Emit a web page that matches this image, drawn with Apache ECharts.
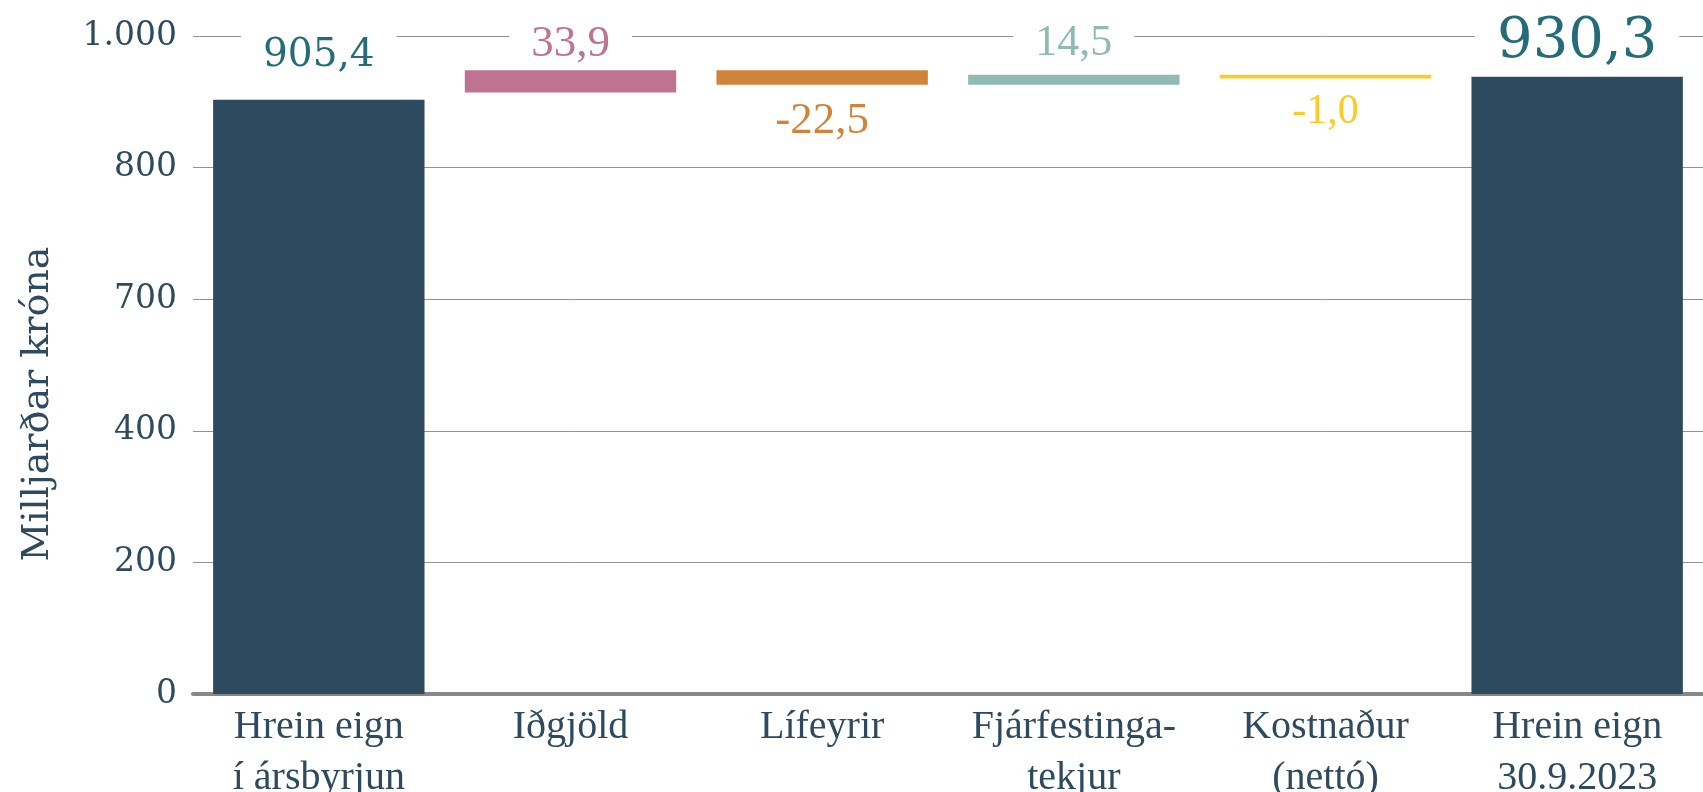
<!DOCTYPE html>
<html>
<head>
<meta charset="utf-8">
<script src="https://cdn.jsdelivr.net/npm/echarts@6/dist/echarts.min.js"></script>
<style>
  html, body { margin: 0; padding: 0; background: #fff; }
  #chart { width: 1703px; height: 792px; }
</style>
</head>
<body>
<div id="chart"></div>
<script>
// gögn lesin af myndinni
const categories = ['Hrein eign\ní ársbyrjun', 'Iðgjöld', 'Lífeyrir', 'Fjárfestinga-\ntekjur', 'Kostnaður\n(nettó)', 'Hrein eign\n30.9.2023']
const amounts = [905.4, 33.9, -22.5, 14.5, -1.0, 930.3]
// neðri brún og hæð súlna eins og þær eru teiknaðar
const barBase = [0, 914, 926, 926, 935.5, 0]
const barHeight = [903, 34, 22, 15, 5.5, 938]
const yTickLabels = ['0', '200', '400', '700', '800', '1.000']

const barColors = ['#2e4a5e', '#be7490', '#d0843a', '#8fbbb4', '#fccb2a', '#2e4a5e']
const labelColors = ['#236c78', '#be7490', '#d0843a', '#8fbbb4', '#fccb2a', '#236c78']
// staðsetning merkja
const labelCfg = [
  { position: 'top', distance: 22, fontSize: 39, fontFamily: 'DejaVu Serif', bg: true },
  { position: 'top', distance: 2, fontSize: 45, fontFamily: 'Liberation Serif', bg: true },
  { position: 'bottom', distance: 12, fontSize: 45, fontFamily: 'Liberation Serif', bg: false },
  { position: 'top', distance: 7, fontSize: 44, fontFamily: 'Liberation Serif', bg: true },
  { position: 'bottom', distance: 11, fontSize: 42, fontFamily: 'Liberation Serif', bg: false },
  { position: 'top', distance: 4, fontSize: 56, fontFamily: 'DejaVu Serif', bg: true }
]

const fmt = v => v.toFixed(1).replace('.', ',')

const myChart = echarts.init(document.getElementById('chart'))

const option = {
  animation: false,
  grid: {
    left: 193,
    right: 0,
    top: 36,
    bottom: 98,
    containLabel: false,
    outerBoundsMode: 'none'
  },
  graphic: [
    {
      type: 'text',
      x: 38,
      y: 404,
      rotation: Math.PI / 2,
      style: {
        text: 'Milljarðar króna',
        fill: '#2e4a5e',
        font: '38px "DejaVu Serif"',
        textAlign: 'center',
        textVerticalAlign: 'middle'
      }
    }
  ],
  xAxis: {
    type: 'category',
    data: categories,
    axisLine: { show: true, lineStyle: { color: '#888', width: 4 } },
    axisTick: { show: false },
    axisLabel: {
      color: '#2e4a5e',
      fontFamily: 'Liberation Serif',
      fontSize: 40,
      lineHeight: 51,
      margin: 8,
      interval: 0
    }
  },
  yAxis: {
    type: 'value',
    min: 0,
    max: 1000,
    interval: 200,
    axisLine: { show: false },
    axisTick: { show: false },
    splitLine: { lineStyle: { color: '#939393', width: 1 } },
    axisLabel: {
      color: '#2e4a5e',
      fontFamily: 'DejaVu Serif',
      fontSize: 33,
      margin: 16,
      formatter: v => yTickLabels[Math.round(v / 200)]
    }
  },
  series: [
    {
      name: 'base',
      type: 'bar',
      stack: 'foss',
      barCategoryGap: '16%',
      itemStyle: { color: 'transparent' },
      silent: true,
      data: barBase
    },
    {
      name: 'value',
      type: 'bar',
      stack: 'foss',
      barCategoryGap: '16%',
      data: barHeight.map((h, i) => ({
        value: h,
        itemStyle: { color: barColors[i] },
        label: {
          show: true,
          position: labelCfg[i].position,
          distance: labelCfg[i].distance,
          color: labelColors[i],
          fontFamily: labelCfg[i].fontFamily,
          fontSize: labelCfg[i].fontSize,
          backgroundColor: labelCfg[i].bg ? '#fff' : 'transparent',
          padding: [2, 22],
          formatter: () => fmt(amounts[i])
        }
      }))
    }
  ]
}

option && myChart.setOption(option)
</script>
</body>
</html>
